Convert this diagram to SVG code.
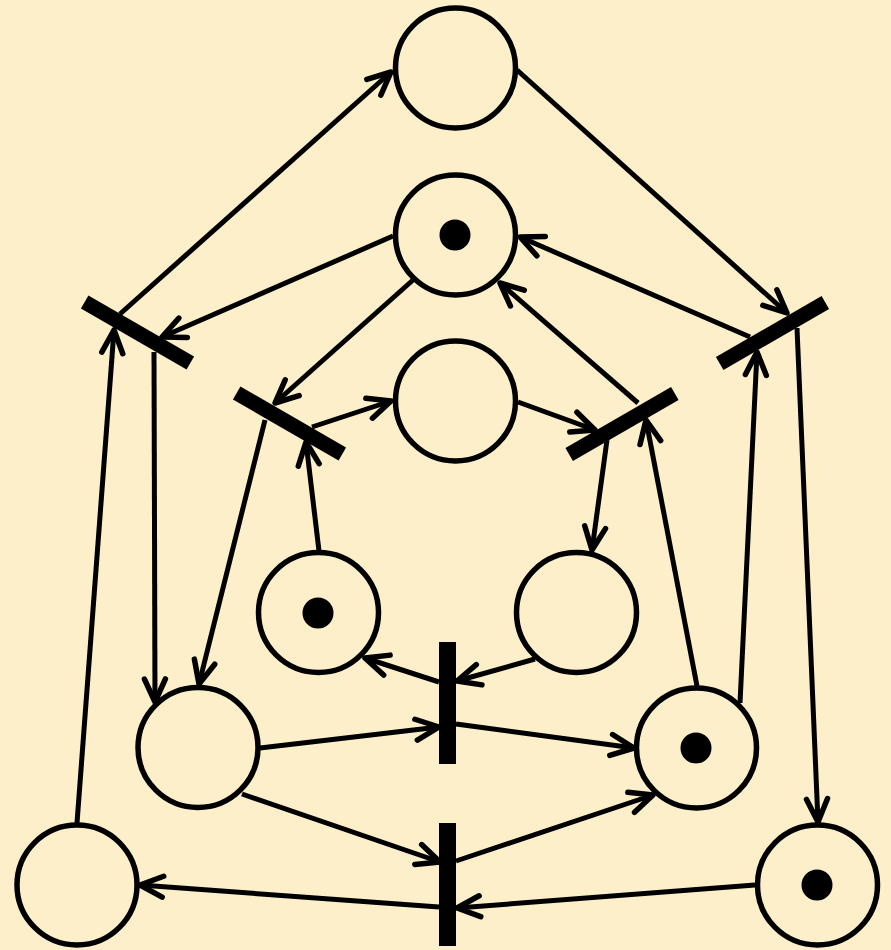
<svg xmlns="http://www.w3.org/2000/svg" width="891" height="950" viewBox="0 0 891 950">
<style>
.place{fill:none;stroke:#000;stroke-width:5.5}
.token{fill:#000}
.bar{fill:#000}
.arc{fill:none;stroke:#000;stroke-width:5;marker-end:url(#arr)}
</style>
<defs>
<marker id="arr" markerUnits="userSpaceOnUse" markerWidth="40" markerHeight="40" viewBox="-30 -20 40 40" refX="0" refY="0" orient="auto" overflow="visible">
<path d="M-23,-10.5 L0,0 L-23,10.5" fill="none" stroke="#000" stroke-width="5.5" stroke-linecap="round" stroke-linejoin="round"/>
</marker>
</defs>
<rect width="891" height="950" fill="#FDEFC9"/>
<g id="connectors">
<path class="arc" d="M120,314 L391,72"/>
<path class="arc" d="M517,70 L787,313"/>
<path class="arc" d="M393,236 L162,337"/>
<path class="arc" d="M750,337 L520,237"/>
<path class="arc" d="M413,280 L275,403"/>
<path class="arc" d="M638,403 L500,283"/>
<path class="arc" d="M312,427 L391,401"/>
<path class="arc" d="M518,402 L595,430"/>
<path class="arc" d="M319,551 L306,442"/>
<path class="arc" d="M607,440 L592,550"/>
<path class="arc" d="M265,420 L199,684"/>
<path class="arc" d="M697,686 L646,420"/>
<path class="arc" d="M154,352 L155,702"/>
<path class="arc" d="M77,823 L114,330"/>
<path class="arc" d="M740,703 L757,352"/>
<path class="arc" d="M797,328 L818,822"/>
<path class="arc" d="M439,682 L365,658"/>
<path class="arc" d="M535,659 L457,681"/>
<path class="arc" d="M260,748 L439,727"/>
<path class="arc" d="M456,724 L634,748"/>
<path class="arc" d="M242,794 L440,862"/>
<path class="arc" d="M456,861 L653,795"/>
<path class="arc" d="M755,885 L457,908"/>
<path class="arc" d="M439,907 L140,885"/>
</g>
<g id="P1"><circle class="place" cx="455.5" cy="68" r="60"/></g>
<g id="P2"><circle class="place" cx="455.5" cy="235" r="60"/><circle class="token" cx="455" cy="235" r="15.5"/></g>
<g id="P3"><circle class="place" cx="455.5" cy="401" r="60"/></g>
<g id="P4"><circle class="place" cx="318.5" cy="612.5" r="60"/><circle class="token" cx="318" cy="613" r="15.5"/></g>
<g id="P5"><circle class="place" cx="576.5" cy="612.5" r="60"/></g>
<g id="P6"><circle class="place" cx="198" cy="747.5" r="60"/></g>
<g id="P7"><circle class="place" cx="696.5" cy="748" r="60"/><circle class="token" cx="696" cy="748" r="15.5"/></g>
<g id="P8"><circle class="place" cx="77" cy="885" r="60"/></g>
<g id="P9"><circle class="place" cx="817.5" cy="885" r="60"/><circle class="token" cx="817" cy="885" r="15.5"/></g>
<g id="T1"><rect class="bar" x="-61" y="-7.5" width="122" height="15" transform="translate(137.5,332.5) rotate(30)"/></g>
<g id="T2"><rect class="bar" x="-61" y="-7.5" width="122" height="15" transform="translate(772.5,333) rotate(-30)"/></g>
<g id="T3"><rect class="bar" x="-61" y="-7.5" width="122" height="15" transform="translate(289.5,423.5) rotate(30)"/></g>
<g id="T4"><rect class="bar" x="-61" y="-7.5" width="122" height="15" transform="translate(622,424) rotate(-30)"/></g>
<g id="T5"><rect class="bar" x="439" y="642" width="17" height="122"/></g>
<g id="T6"><rect class="bar" x="439" y="823" width="17" height="123"/></g>
</svg>
